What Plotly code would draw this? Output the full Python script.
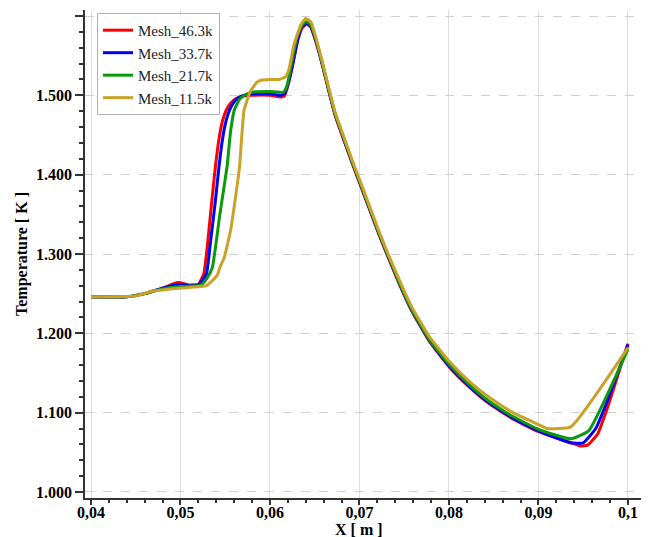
import plotly.graph_objects as go

# ---- data ----
x_463 = [0.040, 0.044, 0.046, 0.048, 0.0497, 0.051, 0.052, 0.0526, 0.0530, 0.0535, 0.0539, 0.0543,
         0.0547, 0.0551, 0.0556, 0.0562, 0.057, 0.058, 0.060, 0.0612, 0.0616, 0.0620, 0.0625, 0.0631,
         0.0636, 0.0641, 0.06455, 0.0652, 0.0659, 0.0666, 0.0673, 0.0683, 0.0692, 0.070, 0.0711,
         0.0722, 0.0732, 0.0745, 0.0758, 0.0778, 0.080, 0.0822, 0.0844, 0.087, 0.090, 0.0936,
         0.0947, 0.0955, 0.0966, 0.0977, 0.100]
t_463 = [1.246, 1.246, 1.250, 1.257, 1.264, 1.261, 1.262, 1.275, 1.310, 1.367, 1.410, 1.445,
         1.468, 1.481, 1.490, 1.496, 1.499, 1.500, 1.500, 1.498, 1.499, 1.512, 1.536, 1.569,
         1.585, 1.590, 1.586, 1.565, 1.536, 1.504, 1.474, 1.442, 1.414, 1.390, 1.357,
         1.324, 1.296, 1.261, 1.229, 1.190, 1.158, 1.133, 1.112, 1.093, 1.076, 1.062,
         1.058, 1.059, 1.073, 1.106, 1.187]

x_337 = [0.040, 0.044, 0.046, 0.048, 0.0498, 0.051, 0.052, 0.0529, 0.0533, 0.0539, 0.0543, 0.0547,
         0.0551, 0.0555, 0.056, 0.0566, 0.0575, 0.058, 0.060, 0.0612, 0.0616, 0.062, 0.0625, 0.0631,
         0.0636, 0.0641, 0.06455, 0.0652, 0.0659, 0.0666, 0.0673, 0.0683, 0.0692, 0.070, 0.0711,
         0.0722, 0.0732, 0.0745, 0.0758, 0.0778, 0.080, 0.0822, 0.0844, 0.087, 0.090, 0.0936,
         0.0950, 0.0964, 0.0977, 0.100]
t_337 = [1.246, 1.246, 1.250, 1.257, 1.262, 1.260, 1.261, 1.275, 1.310, 1.367, 1.410, 1.445,
         1.468, 1.482, 1.492, 1.498, 1.501, 1.502, 1.502, 1.500, 1.502, 1.514, 1.538, 1.571,
         1.587, 1.591, 1.587, 1.566, 1.537, 1.505, 1.475, 1.443, 1.415, 1.391, 1.358,
         1.325, 1.297, 1.262, 1.230, 1.191, 1.159, 1.134, 1.113, 1.094, 1.077, 1.062,
         1.062, 1.080, 1.115, 1.186]

x_217 = [0.040, 0.044, 0.046, 0.048, 0.050, 0.052, 0.0525, 0.0530, 0.05356, 0.0544, 0.0552, 0.0556,
         0.0560, 0.0566, 0.0573, 0.058, 0.060, 0.0615, 0.0619, 0.0624, 0.063, 0.0636, 0.0641, 0.06455,
         0.0652, 0.0659, 0.0666, 0.0673, 0.0683, 0.0692, 0.070, 0.0711, 0.0722, 0.0732, 0.0745,
         0.0758, 0.0778, 0.080, 0.0822, 0.0844, 0.087, 0.090, 0.0936, 0.0956, 0.100]
t_217 = [1.246, 1.246, 1.250, 1.256, 1.259, 1.260, 1.263, 1.270, 1.283, 1.350, 1.410, 1.455,
         1.481, 1.495, 1.501, 1.504, 1.505, 1.504, 1.512, 1.540, 1.573, 1.589, 1.593, 1.589,
         1.568, 1.538, 1.506, 1.476, 1.444, 1.416, 1.392, 1.359, 1.326, 1.298, 1.263,
         1.231, 1.192, 1.161, 1.136, 1.115, 1.096, 1.079, 1.067, 1.077, 1.180]

x_115 = [0.040, 0.045, 0.0468, 0.050, 0.0529, 0.0541, 0.0544, 0.0549, 0.0556, 0.0563, 0.0566,
         0.0571, 0.0578, 0.0585, 0.059, 0.060, 0.061, 0.0617, 0.0621, 0.0627, 0.0635, 0.064, 0.0646,
         0.0652, 0.0659, 0.0666, 0.0673, 0.0683, 0.0692, 0.070, 0.0711, 0.0722, 0.0732, 0.0745,
         0.0758, 0.0778, 0.080, 0.0822, 0.0844, 0.087, 0.090, 0.091, 0.0936, 0.100]
t_115 = [1.246, 1.247, 1.253, 1.257, 1.260, 1.273, 1.283, 1.296, 1.330, 1.384, 1.410,
         1.481, 1.505, 1.516, 1.519, 1.520, 1.520, 1.523, 1.532, 1.565, 1.590, 1.597, 1.592,
         1.570, 1.540, 1.508, 1.478, 1.446, 1.418, 1.394, 1.361, 1.328, 1.300, 1.266,
         1.234, 1.196, 1.165, 1.140, 1.120, 1.101, 1.085, 1.080, 1.082, 1.182]

series_names = ["Mesh_46.3k", "Mesh_33.7k", "Mesh_21.7k", "Mesh_11.5k"]
series_colors = ["#ff0000", "#0000ff", "#0a9a0a", "#c9a227"]

x_tickvals = [0.04, 0.05, 0.06, 0.07, 0.08, 0.09, 0.1]
x_ticktext = ["0,04", "0,05", "0,06", "0,07", "0,08", "0,09", "0,1"]
y_tickvals = [1.0, 1.1, 1.2, 1.3, 1.4, 1.5, 1.6]
y_ticktext = ["1.000", "1.100", "1.200", "1.300", "1.400", "1.500", "1.600"]

FONT = "Liberation Serif"
X_RANGE = [0.03933, 0.10168]

fig = go.Figure()
for xs, ys, name, col in zip([x_463, x_337, x_217, x_115], [t_463, t_337, t_217, t_115],
                             series_names, series_colors):
    fig.add_trace(go.Scatter(x=xs, y=ys, mode="lines", name=name,
                             line=dict(color=col, width=3, shape="spline", smoothing=0.4)))

# the page body has an 8px default margin, so the figure is 8px smaller than the window
fig.update_layout(
    width=641, height=529,
    margin=dict(l=77, r=6, t=2, b=39),
    plot_bgcolor="white", paper_bgcolor="white",
    font=dict(family=FONT, color="black"),
    legend=dict(x=0.0215, y=0.994, xanchor="left", yanchor="top",
                bgcolor="white", bordercolor="#b0b0b0", borderwidth=1,
                font=dict(family=FONT, size=15, color="#222"), tracegroupgap=0),
    annotations=[
        dict(text="X [ m ]", xref="paper", yref="paper",
             x=(0.07 - X_RANGE[0]) / (X_RANGE[1] - X_RANGE[0]), y=0,
             xanchor="center", yanchor="middle", yshift=-31, showarrow=False,
             font=dict(family=FONT, size=16, color="black", weight="bold")),
        dict(text="Temperature [ K ]", xref="paper", yref="paper", x=0, y=0.5,
             xanchor="center", yanchor="middle", xshift=-63, textangle=-90, showarrow=False,
             font=dict(family=FONT, size=16, color="black", weight="bold")),
    ],
)

fig.update_xaxes(
    range=X_RANGE, tickvals=x_tickvals, ticktext=x_ticktext, automargin=False,
    showgrid=True, gridcolor="#dcdcdc", gridwidth=1,
    zeroline=False, showline=True, linecolor="#333", linewidth=1.5,
    ticks="outside", ticklen=5, tickcolor="#333", tickwidth=1.5, ticklabelstandoff=-6,
    tickfont=dict(family=FONT, size=16, color="black", weight="bold"),
    minor=dict(dtick=0.002, tick0=0.04, ticks="outside", ticklen=3, tickcolor="#333", showgrid=False),
)
fig.update_yaxes(
    range=[0.9924, 1.6076], tickvals=y_tickvals, ticktext=y_ticktext, automargin=False,
    showgrid=True, gridcolor="#d0d0d0", gridwidth=1, griddash="dash",
    zeroline=False, showline=True, linecolor="#333", linewidth=1.5,
    ticks="outside", ticklen=8, tickcolor="#333", tickwidth=1.5,
    tickfont=dict(family=FONT, size=16, color="black", weight="bold"),
    minor=dict(dtick=0.02, tick0=1.0, ticks="outside", ticklen=4, tickcolor="#333", showgrid=False),
)

fig.write_html("out.html")
